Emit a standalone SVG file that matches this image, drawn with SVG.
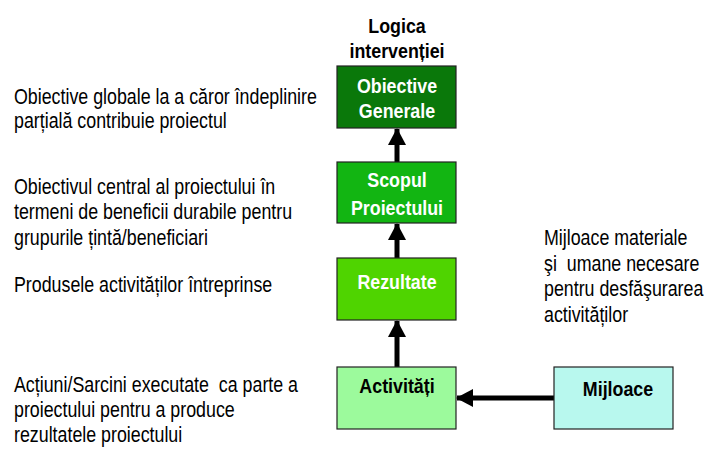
<svg xmlns="http://www.w3.org/2000/svg" width="707" height="451" viewBox="0 0 707 451">
<style>
.box{stroke:#222;stroke-width:1.2}
.bt{font-family:"Liberation Sans",Arial,sans-serif;font-size:20.5px;font-weight:bold;text-anchor:middle}
.w{fill:#fff}
.k{fill:#000}
.d{font-family:"Liberation Sans",Arial,sans-serif;font-size:22px;fill:#000}
.c{stroke:#000;stroke-width:5;fill:none}
</style>
<defs>
<marker id="ah" markerUnits="userSpaceOnUse" markerWidth="18" markerHeight="18" refX="16" refY="9" orient="auto">
<path d="M0,0 L17,9 L0,18 Z" fill="#000"/>
</marker>
</defs>
<rect width="707" height="451" fill="#fff"/>
<g id="title">
<text class="bt k" transform="matrix(0.87 0 0 1 397 33)">Logica</text>
<text class="bt k" transform="matrix(0.87 0 0 1 397 58)">intervenției</text>
</g>
<g id="connectors">
<line class="c" x1="397" y1="162" x2="397" y2="129" marker-end="url(#ah)"/>
<line class="c" x1="397" y1="258" x2="397" y2="224" marker-end="url(#ah)"/>
<line class="c" x1="397" y1="367" x2="397" y2="321" marker-end="url(#ah)"/>
<line class="c" x1="554" y1="398" x2="457" y2="398" marker-end="url(#ah)"/>
</g>
<g id="obiective">
<rect class="box" x="337" y="66" width="119" height="62" fill="#0a780a"/>
<text class="bt w" transform="matrix(0.87 0 0 1 397 93)">Obiective</text>
<text class="bt w" transform="matrix(0.87 0 0 1 397 118)">Generale</text>
</g>
<g id="scopul">
<rect class="box" x="337" y="162" width="119" height="61" fill="#12b512"/>
<text class="bt w" transform="matrix(0.87 0 0 1 397 187)">Scopul</text>
<text class="bt w" transform="matrix(0.87 0 0 1 397 215)">Proiectului</text>
</g>
<g id="rezultate">
<rect class="box" x="337" y="258" width="119" height="62" fill="#4fd400"/>
<text class="bt w" transform="matrix(0.87 0 0 1 397 289)">Rezultate</text>
</g>
<g id="activitati">
<rect class="box" x="337" y="367" width="119" height="62" fill="#9cfa9c"/>
<text class="bt k" transform="matrix(0.87 0 0 1 397 393)">Activități</text>
</g>
<g id="mijloace">
<rect class="box" x="554" y="367" width="119" height="62" fill="#b8f8ee"/>
<text class="bt k" transform="matrix(0.87 0 0 1 618 396)">Mijloace</text>
</g>
<g id="desc">
<text class="d" transform="matrix(0.81 0 0 1 14 104)">Obiective globale la a căror îndeplinire</text>
<text class="d" transform="matrix(0.81 0 0 1 14 128)">parțială contribuie proiectul</text>
<text class="d" transform="matrix(0.81 0 0 1 14 194)">Obiectivul central al proiectului în</text>
<text class="d" transform="matrix(0.81 0 0 1 14 219)">termeni de beneficii durabile pentru</text>
<text class="d" transform="matrix(0.81 0 0 1 14 245)">grupurile țintă/beneficiari</text>
<text class="d" transform="matrix(0.81 0 0 1 14 292)">Produsele activităților întreprinse</text>
<text class="d" transform="matrix(0.81 0 0 1 14 392)" xml:space="preserve">Acțiuni/Sarcini executate  ca parte a</text>
<text class="d" transform="matrix(0.81 0 0 1 14 417)">proiectului pentru a produce</text>
<text class="d" transform="matrix(0.81 0 0 1 14 442)">rezultatele proiectului</text>
<text class="d" transform="matrix(0.81 0 0 1 544 245)">Mijloace materiale</text>
<text class="d" transform="matrix(0.81 0 0 1 544 271)" xml:space="preserve">şi  umane necesare</text>
<text class="d" transform="matrix(0.81 0 0 1 544 296)">pentru desfăşurarea</text>
<text class="d" transform="matrix(0.81 0 0 1 544 322)">activităților</text>
</g>
</svg>
